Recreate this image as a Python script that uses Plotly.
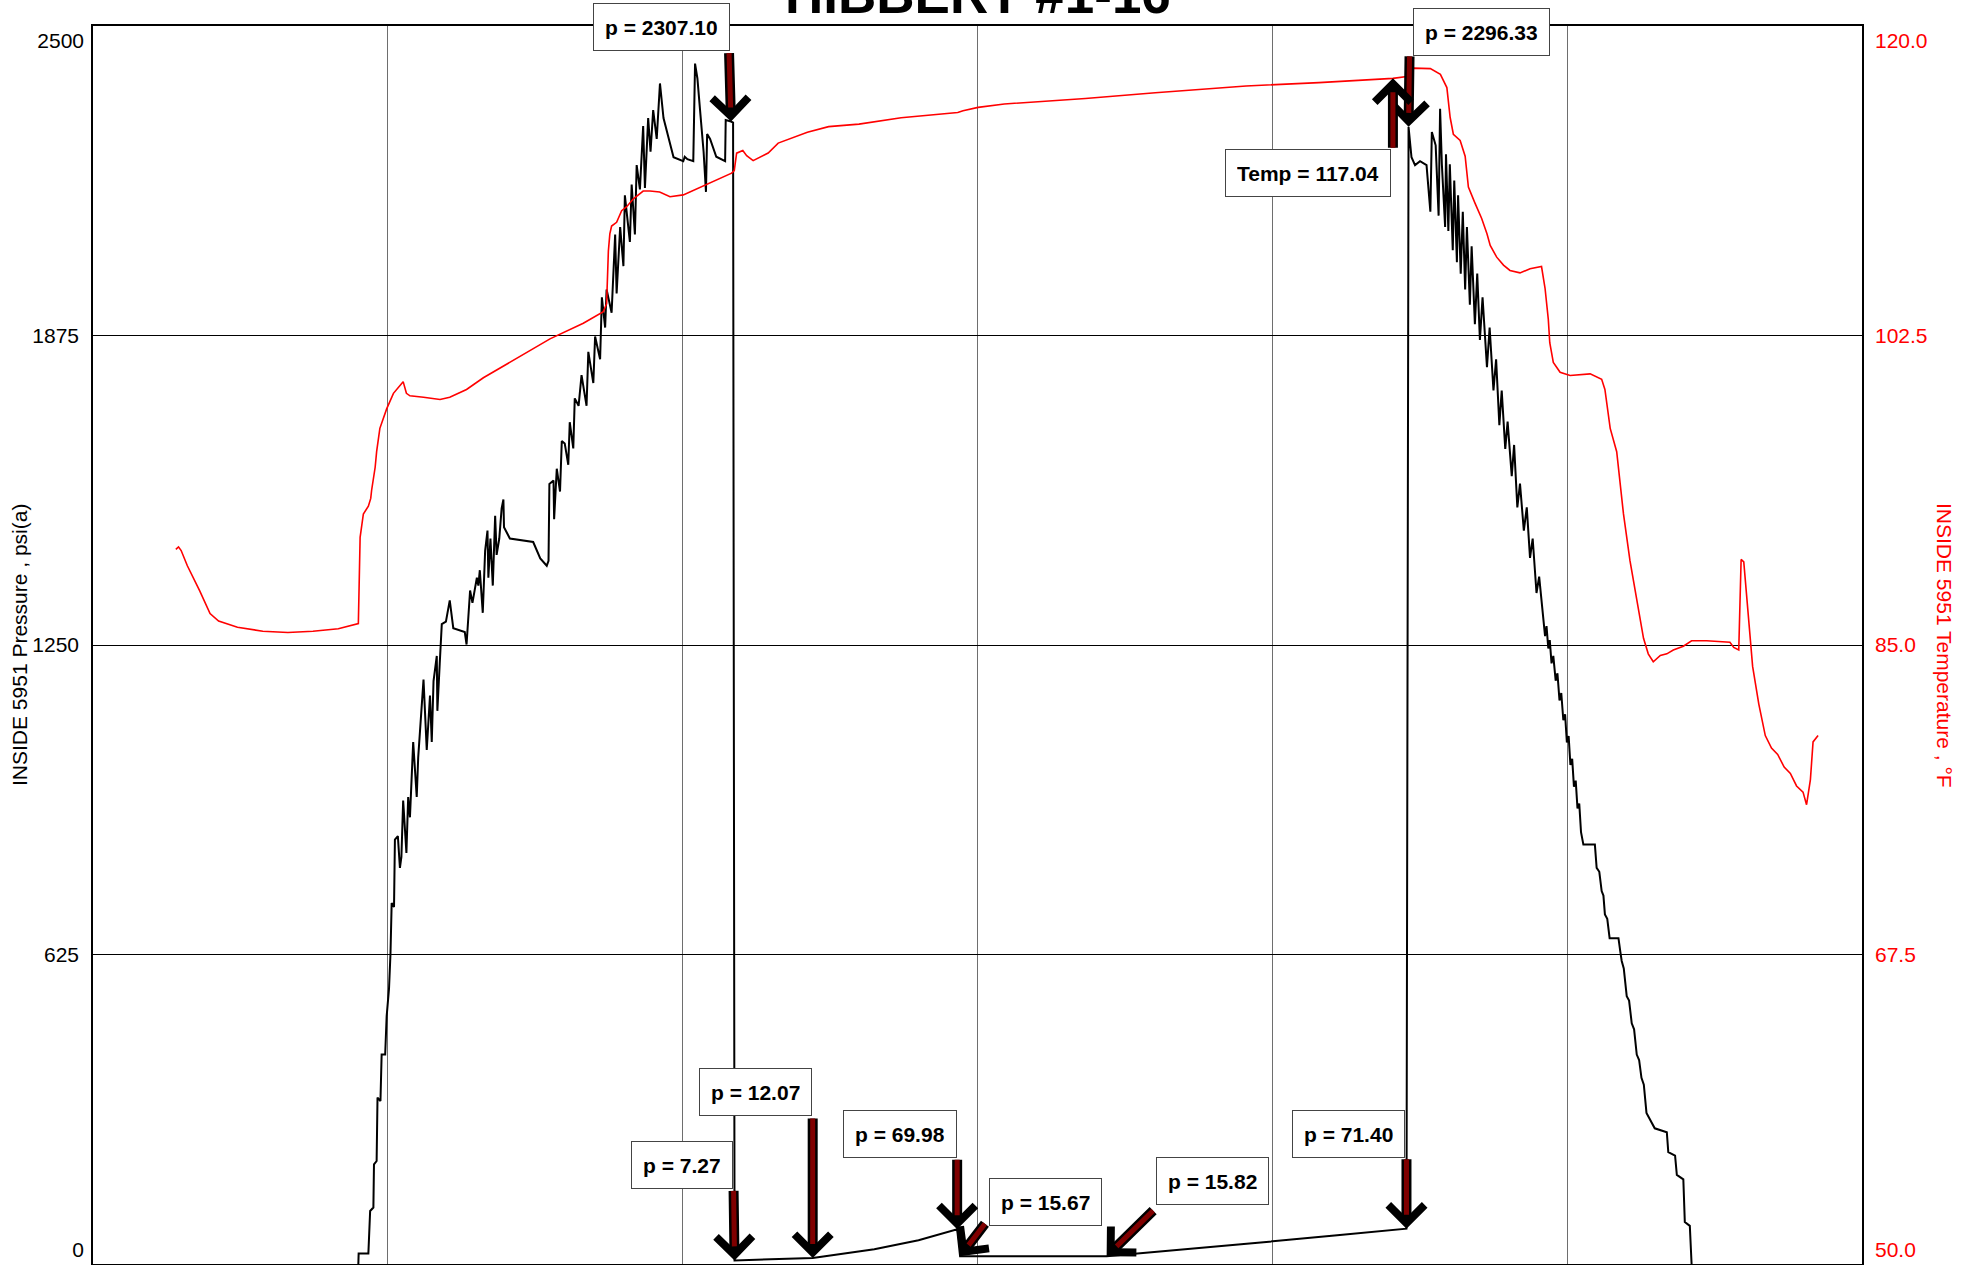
import plotly.graph_objects as go

# ---------------- data (x = elapsed time in grid units) ----------------
p_time = [0.900, 0.901, 0.934, 0.940, 0.951, 0.953, 0.962, 0.965, 0.975, 0.979, 0.991, 0.996,
          1.004, 1.009, 1.013, 1.021, 1.024, 1.034, 1.041, 1.046, 1.052, 1.063, 1.069, 1.075,
          1.086, 1.098, 1.103, 1.121, 1.132, 1.143, 1.149, 1.155, 1.166, 1.168, 1.176, 1.183,
          1.197, 1.210, 1.222, 1.261, 1.267, 1.272, 1.279, 1.287, 1.296, 1.302, 1.307, 1.312,
          1.322, 1.330, 1.338, 1.341, 1.348, 1.356, 1.364, 1.369, 1.378, 1.386, 1.392, 1.394,
          1.414, 1.493, 1.517, 1.539, 1.545, 1.548, 1.562, 1.564, 1.573, 1.584, 1.590, 1.600,
          1.612, 1.617, 1.629, 1.634, 1.647, 1.657, 1.674, 1.680, 1.697, 1.703, 1.720, 1.726,
          1.737, 1.742, 1.759, 1.771, 1.776, 1.788, 1.799, 1.804, 1.821, 1.827, 1.838, 1.844,
          1.855, 1.866, 1.872, 1.883, 1.891, 1.900, 1.912, 1.923, 1.935, 1.969, 2.002, 2.007,
          2.016, 2.036, 2.042, 2.050, 2.059, 2.071, 2.079, 2.083, 2.093, 2.114, 2.144, 2.146,
          2.164, 2.171, 2.176, 2.441, 2.650, 2.800, 2.931, 2.941, 3.438, 3.720, 3.970, 4.220,
          4.455, 4.462, 4.472, 4.484, 4.501, 4.523, 4.536, 4.541, 4.554, 4.564, 4.569, 4.575,
          4.586, 4.589, 4.597, 4.602, 4.612, 4.617, 4.626, 4.630, 4.639, 4.646, 4.654, 4.660,
          4.670, 4.676, 4.687, 4.695, 4.704, 4.713, 4.728, 4.737, 4.750, 4.759, 4.770, 4.778,
          4.790, 4.798, 4.812, 4.820, 4.831, 4.840, 4.853, 4.863, 4.874, 4.883, 4.896, 4.905,
          4.919, 4.925, 4.930, 4.936, 4.941, 4.947, 4.953, 4.961, 4.967, 4.974, 4.980, 4.987,
          4.993, 4.999, 5.005, 5.011, 5.017, 5.023, 5.029, 5.035, 5.041, 5.047, 5.055, 5.094,
          5.100, 5.109, 5.117, 5.123, 5.128, 5.136, 5.144, 5.174, 5.180, 5.185, 5.192, 5.202,
          5.210, 5.219, 5.227, 5.236, 5.244, 5.252, 5.260, 5.269, 5.297, 5.338, 5.343, 5.366,
          5.372, 5.394, 5.399, 5.416, 5.422]
p_psia = [0, 21, 21, 107, 114, 201, 208, 336, 329, 423, 423, 500,
          556, 627, 729, 721, 857, 864, 800, 822, 936, 830, 943, 902,
          1054, 943, 1023, 1180, 1038, 1148, 1054, 1177, 1228, 1117, 1212, 1292,
          1297, 1340, 1284, 1276, 1251, 1299, 1360, 1335, 1368, 1386, 1370, 1401,
          1315, 1440, 1481, 1386, 1465, 1370, 1511, 1432, 1465, 1526, 1544, 1488,
          1465, 1458, 1425, 1410, 1420, 1575, 1582, 1504, 1606, 1560, 1662, 1657,
          1614, 1700, 1647, 1748, 1733, 1795, 1733, 1842, 1779, 1873, 1827, 1952,
          1891, 1968, 1921, 2079, 1960, 2094, 2015, 2158, 2064, 2180, 2079, 2219,
          2170, 2298, 2173, 2314, 2246, 2330, 2272, 2384, 2314, 2235, 2227, 2236,
          2231, 2227, 2424, 2394, 2330, 2246, 2165, 2282, 2272, 2236, 2227, 2310,
          2307.10, 2305, 7.27, 12.07, 30, 48, 69.98, 15.67, 15.82, 30, 44, 58,
          71.40, 2296.33, 2235, 2219, 2227, 2219, 2125, 2286, 2259, 2117, 2333, 2221,
          2094, 2241, 2086, 2221, 2047, 2188, 2023, 2158, 2000, 2125, 1968, 2094,
          1937, 2055, 1898, 2000, 1866, 1952, 1811, 1891, 1764, 1827, 1694, 1764,
          1646, 1701, 1591, 1654, 1528, 1576, 1481, 1528, 1426, 1465, 1355, 1388,
          1301, 1268, 1288, 1243, 1260, 1213, 1228, 1178, 1193, 1138, 1153, 1098,
          1110, 1053, 1066, 1008, 1020, 964, 976, 920, 930, 872, 847, 847,
          800, 792, 753, 744, 706, 697, 658, 658, 632, 612, 597, 541,
          532, 486, 474, 423, 412, 376, 362, 305, 274, 266, 226, 219,
          180, 171, 85, 77, 0]

t_time = [0.281, 0.290, 0.299, 0.320, 0.362, 0.397, 0.426, 0.490, 0.576, 0.661, 0.746, 0.832,
          0.900, 0.903, 0.906, 0.917, 0.934, 0.942, 0.945, 0.957, 0.962, 0.973, 0.996, 1.019,
          1.041, 1.052, 1.063, 1.075, 1.121, 1.177, 1.210, 1.267, 1.324, 1.437, 1.550, 1.663,
          1.731, 1.742, 1.748, 1.753, 1.759, 1.776, 1.793, 1.810, 1.833, 1.866, 1.889, 1.922,
          1.957, 2.002, 2.059, 2.115, 2.166, 2.175, 2.183, 2.204, 2.217, 2.239, 2.264, 2.290,
          2.324, 2.423, 2.495, 2.598, 2.741, 2.933, 2.951, 3.002, 3.091, 3.366, 3.603, 3.911,
          4.158, 4.388, 4.409, 4.456, 4.478, 4.536, 4.570, 4.592, 4.603, 4.614, 4.637, 4.654,
          4.665, 4.687, 4.710, 4.728, 4.739, 4.761, 4.784, 4.806, 4.840, 4.874, 4.913, 4.925,
          4.936, 4.941, 4.953, 4.976, 5.010, 5.078, 5.117, 5.128, 5.146, 5.168, 5.180, 5.191,
          5.213, 5.236, 5.259, 5.275, 5.292, 5.316, 5.338, 5.360, 5.394, 5.422, 5.473, 5.552,
          5.565, 5.582, 5.586, 5.590, 5.599, 5.608, 5.629, 5.650, 5.672, 5.693, 5.714, 5.736,
          5.757, 5.778, 5.800, 5.812, 5.825, 5.834, 5.851]
t_degF = [90.41, 90.55, 90.34, 89.48, 88.06, 86.78, 86.35, 86.00, 85.78, 85.71, 85.78, 85.92,
          86.21, 89.34, 91.09, 92.41, 92.85, 93.29, 93.75, 95.05, 95.93, 97.25, 98.35, 99.23,
          99.67, 99.89, 99.23, 99.09, 99.01, 98.88, 99.01, 99.45, 100.11, 101.21, 102.31, 103.19,
          103.85, 104.29, 107.27, 108.25, 108.69, 108.90, 109.56, 109.78, 110.23, 110.67, 110.67, 110.61,
          110.35, 110.45, 110.89, 111.32, 111.68, 111.82, 112.81, 112.96, 112.67, 112.39, 112.60, 112.82,
          113.38, 113.99, 114.31, 114.45, 114.81, 115.11, 115.21, 115.40, 115.59, 115.90, 116.23, 116.61,
          116.80, 117.00, 117.04, 117.14, 117.62, 117.59, 117.27, 116.52, 114.84, 113.88, 113.53, 112.64,
          110.89, 110.00, 109.12, 108.25, 107.59, 106.93, 106.48, 106.18, 106.04, 106.27, 106.40, 105.17,
          103.41, 102.09, 100.98, 100.42, 100.24, 100.33, 100.02, 99.45, 97.25, 95.93, 94.18, 92.41,
          89.77, 87.58, 85.38, 84.50, 84.05, 84.41, 84.50, 84.72, 84.93, 85.24, 85.24, 85.16,
          84.86, 84.72, 88.06, 89.84, 89.70, 88.06, 83.79, 81.66, 79.88, 79.17, 78.81, 78.10,
          77.74, 77.03, 76.68, 75.97, 77.39, 79.52, 79.88]

p_ticks_mid = [625, 1250, 1875]
t_ticks_mid = [67.5, 85.0, 102.5]
t_ticktext_mid = ["67.5", "85.0", "102.5"]

# labelled points: text, tip x, tip value, axis, tail offset (px), box centre (x, psi)
mark_text = ["p = 2307.10", "p = 2296.33", "Temp = 117.04", "p = 7.27", "p = 12.07",
             "p = 69.98", "p = 15.67", "p = 15.82", "p = 71.40"]
mark_x = [2.164, 4.462, 4.409, 2.176, 2.441, 2.931, 2.941, 3.438, 4.455]
mark_val = [2307.10, 2296.33, 117.04, 7.27, 12.07, 69.98, 15.67, 15.82, 71.40]
mark_axis = ["y", "y", "y2", "y", "y", "y", "y", "y", "y"]
tail_dx = [-2, 1, 0, -1, 0, 0, 26, 48, 0]
tail_dy = [-70, -72, 71, -71, -141, -71, -34, -47, -71]
box_x = [1.927, 4.708, 4.120, 1.998, 2.246, 2.737, 3.229, 3.796, 4.257]
box_p = [2499, 2488, 2203, 199, 347, 262, 125, 167, 262]

FONT = "Liberation Sans, Arial, sans-serif"

fig = go.Figure()
fig.add_trace(go.Scatter(x=p_time, y=p_psia, mode="lines", yaxis="y",
                         line=dict(color="black", width=2), name="Pressure"))
fig.add_trace(go.Scatter(x=t_time, y=t_degF, mode="lines", yaxis="y2",
                         line=dict(color="#ff0000", width=1.6), name="Temperature"))
for ax_name in ["y3", "y4", "y5", "y6"]:
    fig.add_trace(go.Scatter(x=[None], y=[None], yaxis=ax_name, showlegend=False,
                             hoverinfo="skip"))

left_y = dict(ticks="", zeroline=False, ticklabelstandoff=8)
right_y = dict(ticks="", zeroline=False, ticklabelstandoff=12)
fig.update_layout(
    width=1971, height=1265,
    margin=dict(l=93, r=109, t=26, b=1),
    paper_bgcolor="white", plot_bgcolor="white",
    showlegend=False,
    font=dict(family=FONT, size=21, color="black"),
    xaxis=dict(range=[0, 6], tick0=0, dtick=1, showgrid=True, gridcolor="#6e6e6e",
               gridwidth=1, showline=True, linecolor="black", linewidth=1.5,
               mirror=True, showticklabels=False, ticks="", zeroline=False),
    yaxis=dict(range=[0, 2500], tickvals=p_ticks_mid, showgrid=True, gridcolor="black",
               gridwidth=1, showline=True, linecolor="black", linewidth=1.5, mirror=True,
               tickfont=dict(size=21, color="black"), **left_y),
    yaxis2=dict(range=[50, 120], overlaying="y", side="right", tickvals=t_ticks_mid,
                ticktext=t_ticktext_mid, showgrid=False, showline=False,
                tickfont=dict(size=21, color="#ff0000"), **right_y),
    yaxis3=dict(range=[0, 2500], overlaying="y", side="left", tickvals=[2500],
                ticklabelposition="outside bottom", showgrid=False, showline=False,
                tickfont=dict(size=21, color="black"), **left_y),
    yaxis4=dict(range=[0, 2500], overlaying="y", side="left", tickvals=[0],
                ticklabelposition="outside top", showgrid=False, showline=False,
                tickfont=dict(size=21, color="black"), **left_y),
    yaxis5=dict(range=[50, 120], overlaying="y", side="right", tickvals=[120],
                ticktext=["120.0"], ticklabelposition="outside bottom", showgrid=False,
                showline=False, tickfont=dict(size=21, color="#ff0000"), **right_y),
    yaxis6=dict(range=[50, 120], overlaying="y", side="right", tickvals=[50],
                ticktext=["50.0"], ticklabelposition="outside top", showgrid=False,
                showline=False, tickfont=dict(size=21, color="#ff0000"), **right_y),
)

# title and axis titles
fig.add_annotation(text="<b>HIBBERT #1-16</b>", xref="paper", yref="paper", x=0.5, y=1,
                   xanchor="center", yanchor="bottom", showarrow=False,
                   font=dict(family=FONT, size=53, color="black"))
fig.add_annotation(text="INSIDE 5951 Pressure , psi(a)", xref="paper", yref="paper",
                   x=0, y=0.5, xshift=-74, textangle=-90, showarrow=False,
                   xanchor="center", yanchor="middle",
                   font=dict(family=FONT, size=21, color="black"))
fig.add_annotation(text="INSIDE 5951 Temperature , °F", xref="paper", yref="paper",
                   x=1, y=0.5, xshift=83, textangle=90, showarrow=False,
                   xanchor="center", yanchor="middle",
                   font=dict(family=FONT, size=21, color="#ff0000"))

# label boxes
for txt, bx, bp in zip(mark_text, box_x, box_p):
    fig.add_annotation(text="<b>" + txt + "</b>", x=bx, y=bp, xref="x", yref="y",
                       showarrow=False, xanchor="center", yanchor="middle",
                       bgcolor="white", bordercolor="#444444", borderwidth=1,
                       borderpad=11, height=24,
                       font=dict(family=FONT, size=21, color="black"))

# arrows: black outline with chevron head, dark red core
for mx, mv, axn, dx, dy in zip(mark_x, mark_val, mark_axis, tail_dx, tail_dy):
    fig.add_annotation(text="", x=mx, y=mv, xref="x", yref=axn, ax=dx, ay=dy,
                       showarrow=True, arrowhead=4, arrowsize=0.7, arrowwidth=10,
                       arrowcolor="black")
    fig.add_annotation(text="", x=mx, y=mv, xref="x", yref=axn, ax=dx, ay=dy,
                       showarrow=True, arrowhead=0, arrowwidth=5, arrowcolor="#800000",
                       standoff=14)

fig.write_html("out.html", config={"displayModeBar": False},
               post_script="document.body.style.margin='0';document.body.style.overflow='hidden';")
